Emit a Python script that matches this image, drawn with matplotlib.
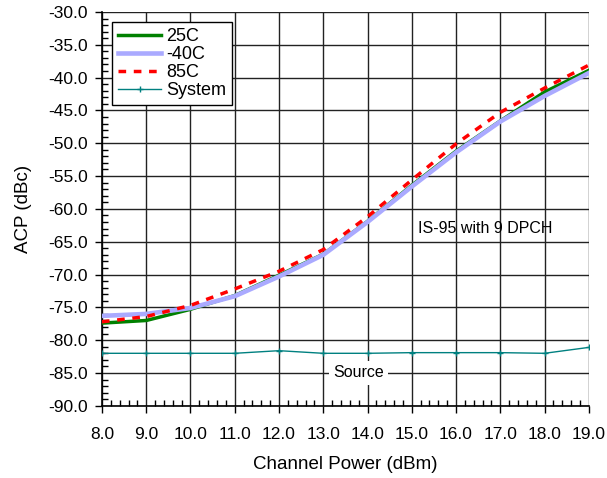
import matplotlib
matplotlib.use("Agg")
import matplotlib.pyplot as plt
from matplotlib.ticker import MultipleLocator, FormatStrFormatter

plt.rcParams['font.family'] = ['Liberation Sans', 'DejaVu Sans']

power = [8, 9, 10, 11, 12, 13, 14, 15, 16, 17, 18, 19]
acp_25c = [-77.4, -77.0, -75.3, -73.2, -70.1, -66.9, -61.9, -56.4, -51.2, -46.6, -42.2, -38.9]
acp_m40c = [-76.3, -76.0, -75.1, -73.3, -70.3, -67.0, -62.0, -56.6, -51.4, -46.7, -42.8, -39.3]
acp_85c = [-77.2, -76.4, -74.7, -72.2, -69.5, -66.2, -61.2, -55.6, -50.1, -45.3, -41.6, -38.1]
acp_sys = [-82.0, -82.0, -82.0, -82.0, -81.6, -82.0, -82.0, -81.9, -81.9, -81.9, -82.0, -81.1]

fig = plt.figure(figsize=(6.07, 4.78), dpi=100)
ax = fig.add_axes([0.168, 0.151, 0.802, 0.824])

ax.plot(power, acp_25c, color='#008000', lw=2.5, label='25C', zorder=3)
ax.plot(power, acp_m40c, color='#aaaaff', lw=3.3, label='-40C', zorder=4)
ax.plot(power, acp_85c, color='#ff0000', lw=2.5, ls=(0, (2.2, 2.2)), label='85C', zorder=5)
ax.plot(power, acp_sys, color='#008080', lw=1, marker='+', ms=5, label='System', zorder=3)

ax.set_xlim(8, 19)
ax.set_ylim(-90, -30)
ax.xaxis.set_major_locator(MultipleLocator(1))
ax.xaxis.set_minor_locator(MultipleLocator(0.2))
ax.yaxis.set_major_locator(MultipleLocator(5))
ax.yaxis.set_minor_locator(MultipleLocator(1))
ax.xaxis.set_major_formatter(FormatStrFormatter('%.1f'))
ax.yaxis.set_major_formatter(FormatStrFormatter('%.1f'))
ax.tick_params(axis='both', which='major', direction='out', length=5, labelsize=12.5, width=1)
ax.tick_params(axis='both', which='minor', direction='in', length=4, width=1)
ax.tick_params(axis='x', pad=10)
ax.tick_params(axis='y', pad=5)
ax.grid(True, which='major', color='#222222', lw=1, zorder=1)

for s in ['top', 'right']:
    ax.spines[s].set_visible(False)
for s in ['left', 'bottom']:
    ax.spines[s].set_linewidth(1.2)

ax.set_xlabel('Channel Power (dBm)', fontsize=13.5, labelpad=10)
ax.set_ylabel('ACP (dBc)', fontsize=13.5, labelpad=12)

leg = ax.legend(loc='upper left', fontsize=13, frameon=True, fancybox=False,
                edgecolor='black', framealpha=1, handlelength=2.4, borderpad=0.35,
                labelspacing=0.05, handletextpad=0.25, borderaxespad=0,
                bbox_to_anchor=(0.02, 0.975))
leg.get_frame().set_linewidth(1)

ax.text(15.15, -63.0, 'IS-95 with 9 DPCH', fontsize=11.5, ha='left', va='center', zorder=6)
ax.text(13.8, -85.0, 'Source', fontsize=11.5, ha='center', va='center', zorder=6,
        bbox=dict(facecolor='white', edgecolor='none', pad=3))

fig.savefig('out.png', dpi=100)
